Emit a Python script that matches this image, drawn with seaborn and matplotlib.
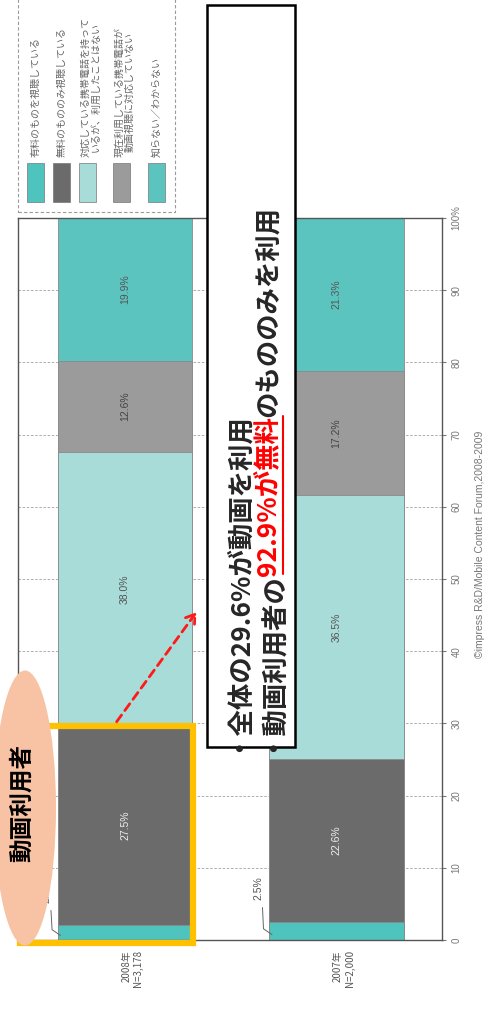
import numpy as np
import pandas as pd
import matplotlib
matplotlib.use("Agg")
import matplotlib.pyplot as plt
import seaborn as sns
from matplotlib.patches import Rectangle, Ellipse, FancyArrowPatch
from matplotlib.lines import Line2D
from matplotlib.text import Annotation

# Data
years = ["2008", "2007"]
year_labels = ["2008年\nN=3,178", "2007年\nN=2,000"]
categories = [
    "有料のものを視聴している",
    "無料のもののみ視聴している",
    "対応している携帯電話を持って\nいるが、利用したことはない",
    "現在利用している携帯電話が\n動画視聴に対応していない",
    "知らない／わからない",
]
share_2008 = [2.1, 27.5, 38.0, 12.6, 19.9]
share_2007 = [2.5, 22.6, 36.5, 17.2, 21.3]
colors = ["#4fc3be", "#6b6b6b", "#a8dcd8", "#9b9b9b", "#5cc4bf"]
label_colors = ["#555555", "#eeeeee", "#555555", "#444444", "#555555"]
ticks = [0, 10, 20, 30, 40, 50, 60, 70, 80, 90, 100]
tick_labels = ["0", "10", "20", "30", "40", "50", "60", "70", "80", "90", "100%"]

# long table with cumulative totals (drawn largest first -> stacked look)
rows = []
for y, shares in zip(years, [share_2008, share_2007]):
    cum = np.cumsum(shares)
    for i, (v, c) in enumerate(zip(shares, cum)):
        rows.append({"year": y, "cat": i, "value": v, "cum": c})
df = pd.DataFrame(rows)

sns.set_style("white")
plt.rcParams["font.family"] = ["Noto Sans CJK JP", "DejaVu Sans"]

W, H = 491, 1009
fig = plt.figure(figsize=(W / 100, H / 100), dpi=100)


def fx(x):
    return x / W


def fy(y):
    return 1 - y / H


ax = fig.add_axes([fx(18), fy(940), fx(442) - fx(18), fy(218) - fy(940)])

bar_w = 0.638
for i in reversed(range(len(categories))):
    sns.barplot(data=df[df["cat"] == i], x="year", y="cum", order=years,
                color=colors[i], saturation=1, width=bar_w,
                edgecolor="#8a8a8a", linewidth=0.6, ax=ax, zorder=2)

ax.set_xlim(-0.506, 1.499)
ax.set_ylim(0, 100)
ax.set_xlabel("")
ax.set_ylabel("")
ax.set_xticks([])
ax.yaxis.tick_right()
ax.set_yticks(ticks)
ax.set_yticklabels(tick_labels, rotation=90, va="center", fontsize=7,
                   color="#777777", family=["Liberation Sans", "DejaVu Sans"])
ax.tick_params(axis="y", length=3, color="#777777", pad=4)
ax.yaxis.grid(True, ls=(0, (3, 2)), color="#a0a0a0", lw=0.6)
ax.set_axisbelow(True)
for s in ax.spines.values():
    s.set_color("#555555")
    s.set_linewidth(1)

# value labels inside bars
for xi, shares in enumerate([share_2008, share_2007]):
    cum = np.cumsum(shares)
    for i, v in enumerate(shares):
        if i == 0:
            continue
        ax.text(xi, cum[i] - v / 2, f"{v:.1f}%", rotation=90, ha="center",
                va="center", fontsize=7.5, color=label_colors[i],
                family=["Liberation Sans", "DejaVu Sans"], zorder=5)
    # small first segment: label outside with leader line
    x0 = xi - 0.36
    ax.text(x0 - 0.01, shares[0] + 3.0, f"{shares[0]:.1f}%", rotation=90,
            ha="center", va="bottom", fontsize=7.5, color="#555555",
            family=["Liberation Sans", "DejaVu Sans"], zorder=5)
    ax.plot([x0 + 0.01, x0 + 0.015, x0 + 0.055],
            [shares[0] + 2.0, shares[0] * 0.3 + 0.8, shares[0] * 0.3],
            color="#666666", lw=0.7, zorder=5, clip_on=False)

# category labels
for xi, lab in enumerate(year_labels):
    ax.text(xi + 0.035, -1.4, lab, rotation=90, ha="center", va="top",
            multialignment="right", fontsize=7, color="#555555")

# legend (rotated)
fig.patches.append(Rectangle((fx(18), fy(212)), fx(175) - fx(18), fy(-5) - fy(212),
                             transform=fig.transFigure, fill=False, ls=(0, (3, 2)),
                             ec="#9a9a9a", lw=0.8))
leg_x = [27, 53, 79, 113, 148]
for i, (lx, lab) in enumerate(zip(leg_x, categories)):
    fig.patches.append(Rectangle((fx(lx), fy(202)), fx(17), fy(0) - fy(39),
                                 transform=fig.transFigure, fc=colors[i],
                                 ec="#777777", lw=0.5))
    off = 3 if "\n" in lab else 0
    fig.text(fx(lx + 8.5 + off), fy(157), lab, rotation=90, ha="center",
             va="bottom", fontsize=7.2, color="#666666", linespacing=0.95)

# copyright
fig.text(fx(480), fy(658), "©impress R&D/Mobile Content Forum,2008-2009",
         rotation=90, ha="center", va="bottom", fontsize=7.5, color="#777777",
         family=["Liberation Sans", "DejaVu Sans"])

# highlight of 2008 video users
ax.add_patch(Rectangle((-0.497, -0.4), 0.497 + bar_w / 2 + 0.004,
                       share_2008[0] + share_2008[1] + 0.4, fill=False,
                       ec="#ffc000", lw=4.5, zorder=6, clip_on=False))

# ellipse label
fig.patches.append(Ellipse((fx(25), fy(808)), fx(62), fy(0) - fy(275),
                           transform=fig.transFigure, fc="#f8c3a5", ec="none",
                           zorder=7))
fig.text(fx(22), fy(803), "動画利用者", rotation=90, ha="center", va="center",
         fontsize=17, weight="bold", color="black", zorder=8)

# message box
fig.patches.append(Rectangle((fx(207), fy(747)), fx(295) - fx(207), fy(5) - fy(747),
                             transform=fig.transFigure, fc="white", ec="black",
                             lw=1.8, zorder=6))
fs = 19
fig.text(fx(233), fy(752), "・全体の29.6%が動画を利用", rotation=90,
         ha="center", va="bottom", fontsize=fs, weight="bold", zorder=8)
p1 = fig.text(fx(268), fy(752), "・動画利用者の", rotation=90, ha="center",
              va="bottom", fontsize=fs, weight="bold", zorder=8)
p2 = Annotation("92.9%が無料", xy=(0.5, 1), xycoords=p1, xytext=(0, -6),
                textcoords="offset points", rotation=90,
                ha="center", va="bottom", fontsize=fs, weight="bold",
                color="red", annotation_clip=False, zorder=8)
fig.add_artist(p2)
p3 = Annotation("のもののみを利用", xy=(0.5, 1), xycoords=p2, xytext=(0, -1),
                textcoords="offset points", rotation=90,
                ha="center", va="bottom", fontsize=fs, weight="bold",
                annotation_clip=False, zorder=8)
fig.add_artist(p3)

fig.canvas.draw()
bb = p2.get_window_extent().transformed(fig.transFigure.inverted())
ux = bb.x1 + fx(1.5)
fig.lines.append(Line2D([ux, ux], [bb.y0 + fy(0) - fy(2), bb.y1],
                        transform=fig.transFigure, color="red", lw=1.5, zorder=9))

# arrow
arrow = FancyArrowPatch((fx(115), fy(724)), (fx(198), fy(610)),
                        transform=fig.transFigure, arrowstyle="->,head_length=6,head_width=4",
                        color="#ff1a1a", lw=2, ls=(0, (3, 2)), zorder=9)
fig.patches.append(arrow)

fig.savefig("out.png", dpi=100)
